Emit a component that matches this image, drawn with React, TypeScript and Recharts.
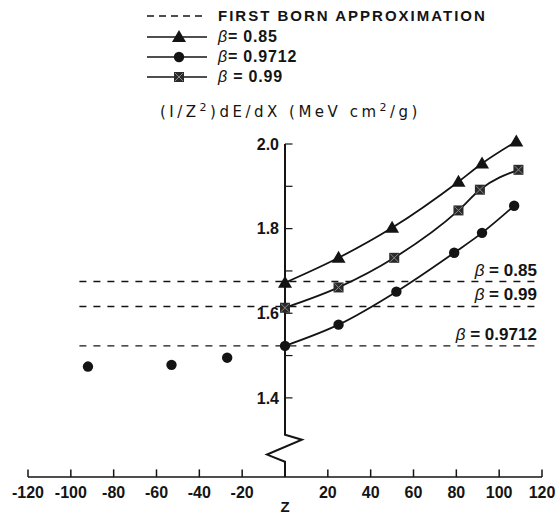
import React from 'react';
import { ComposedChart, Line, Scatter, XAxis, YAxis, ReferenceLine } from 'recharts';

// ---- data ----
const zBeta085 = [0, 25, 50, 81, 92, 108];
const vBeta085 = [1.672, 1.731, 1.802, 1.911, 1.954, 2.006];
const zBeta099 = [0, 25, 51, 81, 91, 109];
const vBeta099 = [1.613, 1.661, 1.731, 1.843, 1.892, 1.939];
const zBeta09712 = [0, 25, 52, 79, 92, 107];
const vBeta09712 = [1.523, 1.573, 1.651, 1.743, 1.79, 1.854];
const zNegative = [-92, -53, -27];
const vNegative = [1.474, 1.478, 1.495];
const bornBetas = ['0.85', '0.99', '0.9712'];
const bornLevels = [1.675, 1.616, 1.523];
const bornRange = [-96, 119];
const xTicks = [-120, -100, -80, -60, -40, -20, 20, 40, 60, 80, 100, 120];
const yTicks = [1.4, 1.5, 1.6, 1.7, 1.8, 1.9, 2.0];
const yTickLabels = ['1.4', '1.6', '1.8', '2.0'];
const axisBreakZ = [0, 0, 7.9, -8.4, 0, 0];
const axisBreakV = [2.0, 1.313, 1.301, 1.266, 1.249, 1.213];
const legendNames = ['FIRST BORN APPROXIMATION', '0.85', '0.9712', '0.99'];

const Y_MIN = 1.213;
const Y_MAX = 2.03;
const INK = '#141414';
const FONT = '"Liberation Sans", Arial, Helvetica, sans-serif';
const WIDE = '"DejaVu Sans", "Liberation Sans", sans-serif';

const zip = (z: number[], v: number[]) => z.map((zz, i) => ({ z: zz, v: v[i] }));
const d085 = zip(zBeta085, vBeta085);
const d099 = zip(zBeta099, vBeta099);
const d09712 = zip(zBeta09712, vBeta09712);
const dNeg = zip(zNegative, vNegative);
const dAxis = zip(axisBreakZ, axisBreakV);

const TriangleDot = (p: any) => {
  const { cx, cy } = p;
  if (cx == null || cy == null) return null;
  return <path d={`M${cx},${cy - 7} L${cx + 7},${cy + 5} L${cx - 7},${cy + 5} Z`} fill={INK} />;
};
const CircleDot = (p: any) => {
  const { cx, cy } = p;
  if (cx == null || cy == null) return null;
  return <circle cx={cx} cy={cy} r={5.2} fill={INK} />;
};
const SquareDot = (p: any) => {
  const { cx, cy } = p;
  if (cx == null || cy == null) return null;
  return (
    <g>
      <rect x={cx - 5} y={cy - 5} width={10} height={10} fill="#2a2a2a" />
      <path d={`M${cx - 4},${cy - 4} L${cx + 4},${cy + 4} M${cx + 4},${cy - 4} L${cx - 4},${cy + 4}`} stroke="#888" strokeWidth={1} />
    </g>
  );
};

const Beta = ({ value, gap }: { value: string; gap: string }) => (
  <>
    <tspan fontStyle="italic" fontWeight="normal">β</tspan>
    <tspan>{gap}= {value}</tspan>
  </>
);

const LegendOverlay = () => {
  const rows = [16, 37, 57, 77];
  const dots = [null, TriangleDot, CircleDot, SquareDot];
  return (
    <svg width={558} height={130} style={{ position: 'absolute', left: 0, top: 0, pointerEvents: 'none' }}>
      {legendNames.map((name, i) => {
        const y = rows[i];
        const Dot = dots[i];
        return (
          <g key={name}>
            <line x1={147} x2={207} y1={y} y2={y} stroke={INK} strokeWidth={1.5} strokeDasharray={i === 0 ? '7 5' : undefined} />
            {Dot ? <Dot cx={179} cy={y} /> : null}
            <text x={218} y={y + 5} fontFamily={FONT} fontWeight="bold" fontSize={i === 0 ? 15 : 16} fill={INK} letterSpacing={i === 0 ? 2.0 : 0.8}>
              {i === 0 ? name : <Beta value={name} gap={i === 3 ? ' ' : ''} />}
            </text>
          </g>
        );
      })}
      <text x={160} y={117} fontFamily={WIDE} fontSize={15} fill={INK} letterSpacing={3.5}>
        (I/Z<tspan dy={-6} fontSize={11}>2</tspan>
        <tspan dy={6}>)dE/dX (MeV cm</tspan>
        <tspan dy={-6} fontSize={11}>2</tspan>
        <tspan dy={6}>/g)</tspan>
      </text>
    </svg>
  );
};

export default function App() {
  const topMargin = 144 - (Y_MAX - 2.0) * 423.2;
  return (
    <div style={{ position: 'absolute', left: 0, top: 0, width: 558, height: 514, background: '#fff' }}>
      <ComposedChart width={558} height={514} margin={{ top: topMargin, right: 16, bottom: 0, left: 28 }}>
        <XAxis
          dataKey="z"
          type="number"
          domain={[-120, 120]}
          allowDataOverflow
          ticks={xTicks}
          interval={0}
          tickLine={false}
          tickSize={0}
          tickMargin={10}
          height={37}
          axisLine={{ stroke: INK, strokeWidth: 1.6 }}
          tick={{ fontSize: 16, fontWeight: 'bold', fill: INK, fontFamily: FONT }}
          label={{ value: 'Z', position: 'insideBottom', offset: 2, fontSize: 15, fontWeight: 'bold', fill: INK, fontFamily: FONT }}
        />
        <YAxis type="number" domain={[Y_MIN, Y_MAX]} allowDataOverflow hide />

        {xTicks.map((t) => (
          <ReferenceLine key={`xt${t}`} segment={[{ x: t, y: Y_MIN }, { x: t, y: Y_MIN + 0.018 }]} stroke={INK} strokeWidth={1.5} ifOverflow="visible" />
        ))}
        {yTicks.map((t) => {
          const lbl = yTickLabels.find((s) => Math.abs(parseFloat(s) - t) < 1e-6);
          return (
            <ReferenceLine
              key={`yt${t}`}
              segment={[{ x: 0, y: t }, { x: 3.5, y: t }]}
              stroke={INK}
              strokeWidth={1.2}
              ifOverflow="visible"
              label={lbl ? { value: lbl, position: 'left', offset: 6, fontSize: 16, fontWeight: 'bold', fill: INK, fontFamily: FONT } : undefined}
            />
          );
        })}
        {bornLevels.map((lv, i) => (
          <ReferenceLine
            key={`born${i}`}
            segment={[{ x: bornRange[0], y: lv }, { x: bornRange[1], y: lv }]}
            stroke={INK}
            strokeWidth={1.4}
            strokeDasharray="7 7"
            ifOverflow="visible"
            label={(props: any) => {
              const vb = props.viewBox || {};
              return (
                <text x={(vb.x || 0) + (vb.width || 0) - 3} y={(vb.y || 0) - 6} textAnchor="end" fontFamily={FONT} fontWeight="bold" fontSize={17} fill={INK}>
                  <tspan fontStyle="italic" fontWeight="normal">β</tspan>
                  <tspan> = {bornBetas[i]}</tspan>
                </text>
              );
            }}
          />
        ))}

        <Line data={dAxis} dataKey="v" type="linear" stroke={INK} strokeWidth={2} dot={false} activeDot={false} isAnimationActive={false} />
        <Line data={d085} dataKey="v" type="monotone" stroke={INK} strokeWidth={1.8} dot={<TriangleDot />} activeDot={false} isAnimationActive={false} />
        <Line data={d099} dataKey="v" type="monotone" stroke={INK} strokeWidth={1.8} dot={<SquareDot />} activeDot={false} isAnimationActive={false} />
        <Line data={d09712} dataKey="v" type="monotone" stroke={INK} strokeWidth={1.8} dot={<CircleDot />} activeDot={false} isAnimationActive={false} />
        <Scatter data={dNeg} dataKey="v" shape={<CircleDot />} isAnimationActive={false} />
      </ComposedChart>
      <LegendOverlay />
    </div>
  );
}
